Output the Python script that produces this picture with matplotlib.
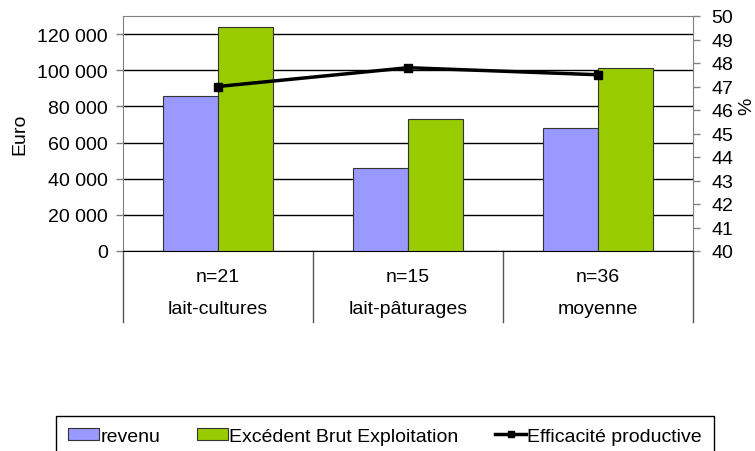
import matplotlib
matplotlib.use("Agg")
import matplotlib.pyplot as plt
from matplotlib.patches import Patch
from matplotlib.lines import Line2D
from matplotlib.ticker import FuncFormatter

plt.rcParams['font.family'] = ['Liberation Sans', 'DejaVu Sans']
plt.rcParams['font.size'] = 14

categories = ["lait-cultures", "lait-pâturages", "moyenne"]
effectifs = ["n=21", "n=15", "n=36"]
revenu = [85500, 46000, 68000]
ebe = [124000, 73000, 101000]
efficacite = [47.0, 47.8, 47.5]

BLUE = "#9999FF"
GREEN = "#99CC00"
W = 0.29

fig = plt.figure(figsize=(7.55, 4.52), dpi=100)
ax = fig.add_axes([123 / 755, 200 / 452, 570 / 755, 235 / 452])
x = list(range(len(categories)))

ax.bar([i - W / 2 for i in x], revenu, W, color=BLUE, edgecolor="#333333", linewidth=0.8, zorder=3)
ax.bar([i + W / 2 for i in x], ebe, W, color=GREEN, edgecolor="#333333", linewidth=0.8, zorder=3)

ax.set_xlim(-0.5, 2.5)
ax.set_ylim(0, 130000)
ax.set_yticks(range(0, 120001, 20000))
ax.yaxis.set_major_formatter(FuncFormatter(lambda v, p: f"{int(v):,}".replace(",", " ")))
ax.yaxis.grid(True, color="black", linewidth=1)
ax.set_axisbelow(True)
ax.set_xticks([])
ax.tick_params(axis="y", length=5, width=1, color="#808080", pad=6)
for s in ["left", "top", "right"]:
    ax.spines[s].set_color("#808080")
ax.spines["bottom"].set_color("black")
ax.set_ylabel("Euro")
ax.yaxis.set_label_coords(-95 / 570, 0.5)

# category table below the axis
trans = ax.get_xaxis_transform()
for b in [-0.5, 0.5, 1.5, 2.5]:
    ax.plot([b, b], [0, -0.3], color="#555555", linewidth=1, transform=trans, clip_on=False)
for i in x:
    ax.text(i, -25 / 235, effectifs[i], transform=trans, ha="center", va="center")
    ax.text(i, -58 / 235, categories[i], transform=trans, ha="center", va="center")

ax2 = ax.twinx()
ax2.plot(x, efficacite, color="black", linewidth=2.5, marker="s", markersize=6, zorder=5)
ax2.set_ylim(40, 50)
ax2.set_yticks(range(40, 51))
ax2.tick_params(axis="y", length=5, width=1, color="#808080", pad=8)
for s in ax2.spines.values():
    s.set_visible(False)
ax2.set_ylabel("%")
ax2.yaxis.set_label_coords(1 + 45 / 570, 0.62)

handles = [
    Patch(facecolor=BLUE, edgecolor="#333333", linewidth=0.8),
    Patch(facecolor=GREEN, edgecolor="#333333", linewidth=0.8),
    Line2D([], [], color="black", linewidth=2.5, marker="s", markersize=5),
]
fig.legend(handles, ["revenu", "Excédent Brut Exploitation", "Efficacité productive"],
           loc="upper center", bbox_to_anchor=(385 / 755, 1 - 417 / 452), ncol=3,
           frameon=True, fancybox=False, edgecolor="black", framealpha=1,
           handlelength=1.6, handleheight=0.55, handletextpad=0.05, columnspacing=1.9,
           borderpad=0.6, borderaxespad=0)

fig.savefig("out.png", dpi=100)
